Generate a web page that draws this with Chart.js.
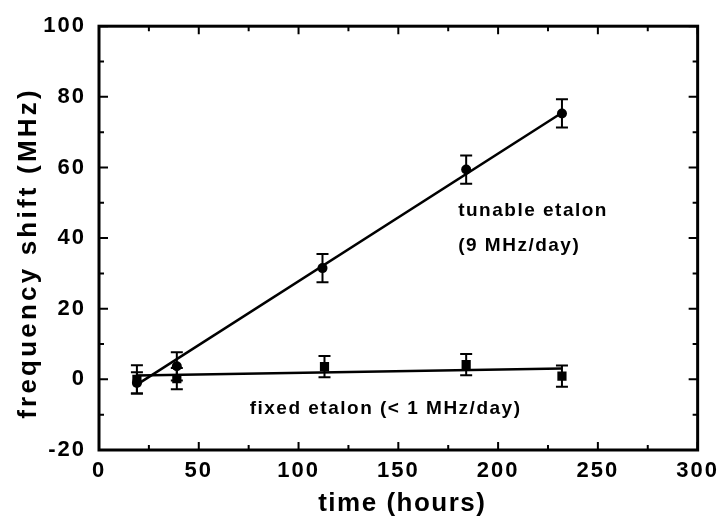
<!DOCTYPE html>
<html>
<head>
<meta charset="utf-8">
<title>frequency shift vs time</title>
<script src="https://cdn.jsdelivr.net/npm/chart.js@4.4.1/dist/chart.umd.min.js"></script>
<style>
  html, body { margin: 0; padding: 0; background: #fff; }
</style>
</head>
<body>
<canvas id="myChart" width="727" height="528"></canvas>
<script>
// measured shifts (MHz) against elapsed time (hours)
const hoursTunable = [19, 39, 112, 184, 232];
const shiftTunable = [-1, 3.7, 31.5, 59.4, 75.3];
const errTunable = [3, 4, 4, 4, 4];

const hoursFixed = [19, 39, 113, 184, 232];
const shiftFixed = [0, 0.2, 3.6, 4.2, 0.9];
const errFixed = [4, 3, 3, 3, 3];

// straight-line fits, end points
const fitHours = [19, 232];
const fitTunable = [-1.5, 75.5];
const fitFixed = [1.1, 3.1];

const FONT = '"Liberation Sans", Arial, Helvetica, sans-serif';

function pts(xs, ys) {
    return xs.map((x, i) => ({ x: x, y: ys[i] }));
}

function errorBars(ctx, xs, ys, errs, sx, sy) {
    xs.forEach((h, i) => {
        const px = sx.getPixelForValue(h);
        const top = sy.getPixelForValue(ys[i] + errs[i]);
        const bot = sy.getPixelForValue(ys[i] - errs[i]);
        ctx.beginPath();
        ctx.moveTo(px, top); ctx.lineTo(px, bot);
        ctx.moveTo(px - 6, top); ctx.lineTo(px + 6, top);
        ctx.moveTo(px - 6, bot); ctx.lineTo(px + 6, bot);
        ctx.stroke();
    });
}

// text with its own letter spacing
function label(ctx, text, x, y, font, spacing, align) {
    ctx.save();
    ctx.font = font;
    ctx.letterSpacing = spacing + 'px';
    ctx.fillStyle = '#000';
    ctx.textAlign = align || 'left';
    ctx.textBaseline = 'middle';
    ctx.fillText(text, x, y);
    ctx.restore();
}

const plotDecor = {
    id: 'plotDecor',
    beforeUpdate(chart) { chart.ctx.letterSpacing = '2px'; },
    beforeDraw(chart) { chart.ctx.letterSpacing = '2px'; },
    afterDatasetsDraw(chart) {
        const ctx = chart.ctx;
        const sx = chart.scales.x, sy = chart.scales.y;
        ctx.save();
        ctx.strokeStyle = '#000';
        ctx.lineWidth = 2;
        errorBars(ctx, hoursTunable, shiftTunable, errTunable, sx, sy);
        errorBars(ctx, hoursFixed, shiftFixed, errFixed, sx, sy);
        ctx.restore();
    },
    afterDraw(chart) {
        const ctx = chart.ctx;
        const a = chart.chartArea;
        const sx = chart.scales.x, sy = chart.scales.y;
        ctx.save();
        ctx.strokeStyle = '#000';

        // inward ticks on all four sides, minor ones halfway
        ctx.lineWidth = 2;
        ctx.beginPath();
        const xt = sx.ticks.map(t => t.value);
        xt.forEach((v, i) => {
            const p = sx.getPixelForValue(v);
            ctx.moveTo(p, a.bottom); ctx.lineTo(p, a.bottom - 8);
            ctx.moveTo(p, a.top); ctx.lineTo(p, a.top + 8);
            if (i < xt.length - 1) {
                const m = sx.getPixelForValue((v + xt[i + 1]) / 2);
                ctx.moveTo(m, a.bottom); ctx.lineTo(m, a.bottom - 5);
                ctx.moveTo(m, a.top); ctx.lineTo(m, a.top + 5);
            }
        });
        const yt = sy.ticks.map(t => t.value);
        yt.forEach((v, i) => {
            const p = sy.getPixelForValue(v);
            ctx.moveTo(a.left, p); ctx.lineTo(a.left + 9, p);
            ctx.moveTo(a.right, p); ctx.lineTo(a.right - 9, p);
            if (i < yt.length - 1) {
                const m = sy.getPixelForValue((v + yt[i + 1]) / 2);
                ctx.moveTo(a.left, m); ctx.lineTo(a.left + 5, m);
                ctx.moveTo(a.right, m); ctx.lineTo(a.right - 5, m);
            }
        });
        ctx.stroke();

        // frame
        ctx.lineWidth = 3;
        ctx.strokeRect(a.left, a.top, a.right - a.left, a.bottom - a.top);
        ctx.restore();

        // axis titles
        label(ctx, 'time (hours)', (a.left + a.right) / 2 + 4, chart.height - 24,
              'bold 26px ' + FONT, 1.5, 'center');
        ctx.save();
        ctx.translate(29, 253);
        ctx.rotate(-Math.PI / 2);
        label(ctx, 'frequency shift (MHz)', 0, 0, 'bold 26px ' + FONT, 3.2, 'center');
        ctx.restore();

        // series labels, placed in data units
        const f = 'bold 19px ' + FONT;
        label(ctx, 'tunable etalon', sx.getPixelForValue(180), sy.getPixelForValue(47.7), f, 1.5);
        label(ctx, '(9 MHz/day)', sx.getPixelForValue(180), sy.getPixelForValue(37.9), f, 1.5);
        label(ctx, 'fixed etalon (< 1 MHz/day)', sx.getPixelForValue(75.5), sy.getPixelForValue(-8.3), f, 1.5);
    }
};

const ctx = document.getElementById('myChart').getContext('2d');

const myChart = new Chart(ctx, {
    type: 'scatter',
    data: {
        datasets: [{
            label: 'tunable etalon',
            data: pts(hoursTunable, shiftTunable),
            pointStyle: 'circle',
            pointRadius: 5,
            backgroundColor: '#000',
            borderColor: '#000',
            borderWidth: 0
        }, {
            label: 'fixed etalon',
            data: pts(hoursFixed, shiftFixed),
            pointStyle: 'rect',
            pointRadius: 6.5,
            backgroundColor: '#000',
            borderColor: '#000',
            borderWidth: 0
        }, {
            label: 'tunable fit',
            data: pts(fitHours, fitTunable),
            showLine: true,
            pointRadius: 0,
            borderColor: '#000',
            borderWidth: 2.5
        }, {
            label: 'fixed fit',
            data: pts(fitHours, fitFixed),
            showLine: true,
            pointRadius: 0,
            borderColor: '#000',
            borderWidth: 2.5
        }]
    },
    options: {
        responsive: false,
        animation: false,
        layout: {
            padding: { top: 19, right: 27, left: 0, bottom: 0 }
        },
        scales: {
            x: {
                type: 'linear',
                min: 0,
                max: 300,
                ticks: {
                    stepSize: 50,
                    color: '#000',
                    padding: 8,
                    maxRotation: 0,
                    font: { family: FONT, size: 22, weight: 'bold' }
                },
                grid: { display: false, drawTicks: false },
                border: { display: false },
                afterFit(scale) { scale.height = 78; }
            },
            y: {
                type: 'linear',
                min: -20,
                max: 100,
                ticks: {
                    stepSize: 20,
                    color: '#000',
                    padding: 13,
                    font: { family: FONT, size: 22, weight: 'bold' }
                },
                grid: { display: false, drawTicks: false },
                border: { display: false },
                afterFit(scale) { scale.width = 99; }
            }
        },
        plugins: {
            legend: { display: false },
            tooltip: { enabled: false }
        }
    },
    plugins: [plotDecor]
});
</script>
</body>
</html>
